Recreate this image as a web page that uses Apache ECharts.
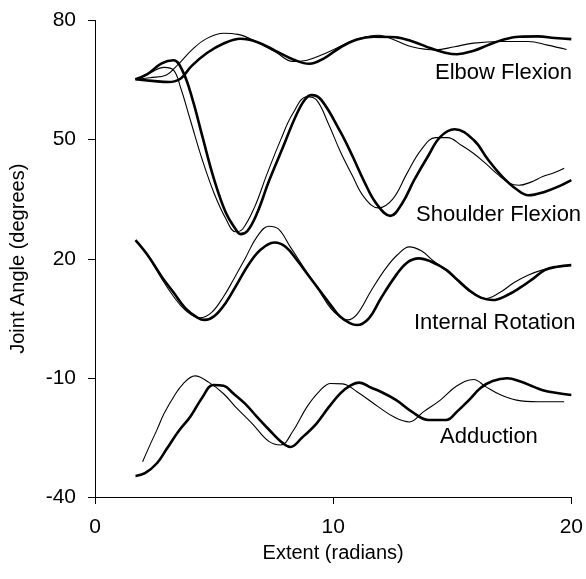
<!DOCTYPE html>
<html>
<head>
<meta charset="utf-8">
<script src="https://cdn.jsdelivr.net/npm/echarts@6/dist/echarts.min.js"></script>
<style>
  html, body { margin: 0; padding: 0; background: #fff; }
  #chart { width: 586px; height: 579px; }
</style>
</head>
<body>
<div id="chart"></div>
<script>
// Joint angle traces: thick = measured, thin = model, pairs of [extent, angle]
const elbowThick = [[1.7,65.2],[2.4,64.8],[3.1,64.5],[3.6,65.4],[4.05,68.5],[4.7,71.8],[5.4,74.2],[6.1,75.4],[6.8,74.6],[7.6,72.3],[8.4,70],[9.0,69.1],[9.6,70.4],[10.3,73.2],[11.0,75.2],[11.7,75.9],[12.6,75.8],[13.4,74.6],[14.1,73],[14.7,71.9],[15.2,71.5],[15.9,72.4],[16.5,73.8],[17.1,75.1],[17.8,75.9],[18.6,76],[19.3,75.6],[20.0,75.3]];
const elbowThin = [[1.7,65.2],[2.3,65.6],[3.0,66.3],[3.5,69],[4.1,72.8],[4.7,75.5],[5.4,76.8],[6.0,76.5],[6.8,74.6],[7.6,72],[8.3,69.7],[8.9,70],[9.5,71.3],[10.2,73.2],[11.0,75.3],[11.9,76.3],[12.6,75],[13.3,73.4],[14.3,72.6],[15.1,73.4],[15.9,74.3],[17.0,74.7],[18.2,74.7],[19.0,73.8],[19.8,72.7]];

const shoulderThick = [[1.7,65.2],[2.2,66.5],[2.8,69.2],[3.3,70],[3.7,67],[4.1,60],[4.5,51],[5.0,40],[5.5,31.5],[5.9,27.5],[6.1,26.2],[6.4,27],[6.8,31.4],[7.3,39.5],[7.9,48.2],[8.4,55.5],[8.8,60],[9.1,61.2],[9.5,60],[10.3,52],[10.8,46],[11.3,39.5],[11.8,34],[12.4,30.8],[12.9,34],[13.4,39.8],[14.0,46],[14.5,50.7],[15.1,52.6],[15.9,49.9],[16.5,45],[17.1,40.7],[17.7,37.5],[18.2,36],[18.9,36.9],[19.5,38.3],[20.0,39.8]];
const shoulderThin = [[1.7,65.2],[2.3,66.8],[2.9,68.2],[3.3,67.5],[3.6,63],[4.0,55],[4.5,45],[5.0,36.5],[5.5,30],[5.9,26.8],[6.2,27.5],[6.7,33],[7.2,41],[7.8,50],[8.3,56.5],[8.9,60.8],[9.3,60],[9.8,54],[10.3,47],[10.8,41],[11.3,35.5],[11.9,32.8],[12.5,35],[13.1,41.5],[13.7,47.5],[14.3,50.5],[14.8,50.5],[15.4,48.5],[15.9,46.5],[16.4,44],[16.9,41.3],[17.4,39],[17.8,38.5],[18.3,39.3],[18.8,40.7],[19.3,41.7],[19.7,42.8]];

const rotationThick = [[1.7,24.7],[2.2,21],[2.8,15.5],[3.3,11.5],[3.8,7.5],[4.3,5.2],[4.6,4.6],[5.0,5.5],[5.5,9],[6.0,14],[6.5,19],[7.0,22.5],[7.55,24.1],[8.0,23],[8.5,19.5],[8.9,16.3],[9.5,11.5],[10.0,7.5],[10.3,5.4],[10.7,3.8],[11.0,3.3],[11.5,5],[12.0,10],[12.6,15.5],[13.1,19],[13.6,20.1],[14.1,19.3],[14.75,17.2],[15.2,14.8],[15.7,12.1],[16.2,10.2],[16.7,9.6],[17.3,10.8],[17.9,12.9],[18.4,15],[18.9,17.2],[19.4,18],[20.0,18.4]];
const rotationThin = [[1.8,24.2],[2.3,20],[2.8,15],[3.3,10.5],[3.8,7],[4.4,5.1],[4.9,6.5],[5.4,10.5],[5.8,14.6],[6.3,20],[6.8,25.5],[7.3,28.2],[7.7,27.5],[8.2,23],[8.8,17.5],[9.4,12],[9.9,7.5],[10.3,5.3],[10.6,4.6],[11.0,6],[11.6,12],[12.2,17.5],[12.7,21],[13.2,23],[13.7,22],[14.2,19.5],[14.75,17],[15.3,14],[15.8,11.5],[16.4,10],[17.0,11.5],[17.6,14],[18.2,15.9],[18.8,17.2],[19.3,17.8],[19.7,18.1]];

const adductionThick = [[1.7,-34.7],[2.1,-34],[2.6,-31.5],[3.0,-28],[3.5,-23.5],[4.0,-19.8],[4.5,-15],[4.96,-11.8],[5.4,-12],[5.8,-13.9],[6.3,-16.5],[6.8,-19.8],[7.3,-23],[7.8,-26],[8.2,-27.4],[8.7,-25],[9.3,-21.5],[9.8,-17.5],[10.3,-13.9],[10.7,-12],[11.1,-11.2],[11.6,-12.5],[12.0,-13.5],[12.65,-15.6],[13.3,-18.5],[14.0,-20.6],[14.75,-20.6],[15.2,-18.5],[15.7,-15.6],[16.2,-12.5],[16.7,-10.8],[17.3,-10.1],[17.9,-11],[18.4,-12.2],[18.8,-13.1],[19.4,-13.8],[20.0,-14.3]];
const adductionThin = [[2.0,-31.1],[2.3,-27],[2.6,-23.1],[2.9,-19],[3.3,-14.8],[3.7,-11.5],[4.2,-9.5],[4.8,-11.2],[5.4,-14],[5.9,-17.3],[6.6,-21.5],[7.3,-26],[7.8,-26.9],[8.3,-23.5],[8.9,-17.3],[9.4,-13.5],[9.9,-11.4],[10.4,-11.5],[11.0,-13.5],[11.9,-17.3],[12.6,-20],[13.2,-21.1],[13.8,-18.5],[14.5,-15.6],[15.2,-12],[15.9,-10.4],[16.4,-12.2],[17.0,-14.2],[17.7,-15.6],[18.6,-16],[19.7,-16]];

const xTicks = [0, 10, 20];
const yTicks = [-40, -10, 20, 50, 80];

const FONT = '"Liberation Sans", Arial, Helvetica, sans-serif';

function trace(name, data, thick) {
  return {
    name: name,
    type: 'line',
    data: data,
    smooth: 0.4,
    showSymbol: false,
    silent: true,
    lineStyle: { color: '#000', width: thick ? 2.6 : 1.1 }
  };
}

const axisCommon = {
  axisLine: { show: true, onZero: false, lineStyle: { color: '#000', width: 1 } },
  axisTick: { show: true, inside: false, length: 7, lineStyle: { color: '#000', width: 1 } },
  splitLine: { show: false },
  nameLocation: 'middle',
  nameTextStyle: { color: '#000', fontSize: 20, fontFamily: FONT }
};

const chart = echarts.init(document.getElementById('chart'), null, { renderer: 'canvas' });
chart.setOption({
  animation: false,
  backgroundColor: '#fff',
  grid: { left: 95, top: 20.5, right: 14, bottom: 82, containLabel: false },
  xAxis: Object.assign({}, axisCommon, {
    type: 'value',
    min: xTicks[0], max: xTicks[xTicks.length - 1], interval: xTicks[1] - xTicks[0],
    name: 'Extent (radians)', nameGap: 46,
    axisLabel: { color: '#000', fontSize: 21, fontFamily: FONT, margin: 20 }
  }),
  yAxis: Object.assign({}, axisCommon, {
    type: 'value',
    min: yTicks[0], max: yTicks[yTicks.length - 1], interval: yTicks[1] - yTicks[0],
    name: 'Joint Angle (degrees)', nameGap: 67,
    axisLabel: { color: '#000', fontSize: 21, fontFamily: FONT, margin: 19 }
  }),
  series: [
    trace('Elbow Flexion', elbowThin, false),
    trace('Elbow Flexion', elbowThick, true),
    trace('Shoulder Flexion', shoulderThin, false),
    trace('Shoulder Flexion', shoulderThick, true),
    trace('Internal Rotation', rotationThin, false),
    trace('Internal Rotation', rotationThick, true),
    trace('Adduction', adductionThin, false),
    trace('Adduction', adductionThick, true)
  ],
  graphic: [
    { type: 'text', right: 14, top: 62, style: { text: 'Elbow Flexion', font: '22px ' + FONT, fill: '#000' } },
    { type: 'text', left: 416, top: 204, style: { text: 'Shoulder Flexion', font: '22px ' + FONT, fill: '#000' } },
    { type: 'text', left: 414, top: 312, style: { text: 'Internal Rotation', font: '22px ' + FONT, fill: '#000' } },
    { type: 'text', left: 440, top: 426, style: { text: 'Adduction', font: '22px ' + FONT, fill: '#000' } }
  ]
});
</script>
</body>
</html>
